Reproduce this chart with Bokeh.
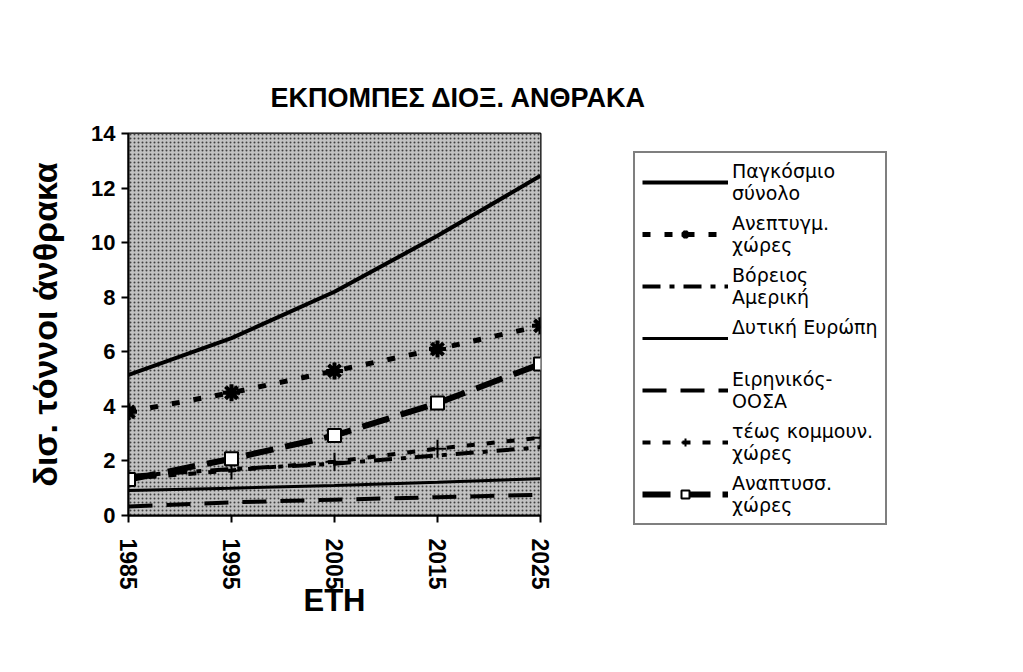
from bokeh.plotting import figure
from bokeh.models import Legend, LegendItem, FixedTicker, BoxAnnotation, Range1d
from bokeh.embed import file_html
from bokeh.resources import INLINE

# ---- data ----
years = [1985, 1995, 2005, 2015, 2025]
world_total = [5.15, 6.5, 8.2, 10.25, 12.45]
developed = [3.8, 4.5, 5.3, 6.1, 6.95]
north_america = [1.45, 1.7, 1.9, 2.2, 2.5]
western_europe = [0.92, 1.0, 1.1, 1.22, 1.35]
pacific_oecd = [0.33, 0.48, 0.58, 0.67, 0.76]
former_communist = [1.35, 1.65, 1.97, 2.45, 2.85]
developing = [1.32, 2.08, 2.93, 4.12, 5.55]

labels = [
    "Παγκόσμιο\nσύνολο",
    "Ανεπτυγμ.\nχώρες",
    "Βόρειος\nΑμερική",
    "Δυτική Ευρώπη\n ",
    "Ειρηνικός-\nΟΟΣΑ",
    "τέως κομμουν.\nχώρες",
    "Αναπτυσσ.\nχώρες",
]
y_ticks = [0, 2, 4, 6, 8, 10, 12, 14]
x_ticks = years
title_text = "ΕΚΠΟΜΠΕΣ ΔΙΟΞ. ΑΝΘΡΑΚΑ"
y_label = "δισ. τόννοι άνθρακα"
x_label = "ΕΤΗ"

FONT = "Liberation Sans"
LEGEND_FONT = "DejaVu Sans"

p = figure(
    frame_width=412, frame_height=382,
    output_backend="svg", toolbar_location=None,
    x_range=Range1d(1985, 2025), y_range=Range1d(0, 14),
    min_border_left=128, min_border_right=140,
    min_border_top=133, min_border_bottom=145,
)
p.background_fill_color = "#b8b8b8"
p.border_fill_color = "white"
p.outline_line_color = "black"
p.outline_line_width = 2
p.grid.visible = False

# stipple look
p.add_layout(BoxAnnotation(fill_color="#c2c2c2", fill_alpha=1.0, line_alpha=0,
                           hatch_pattern=".", hatch_color="#404040",
                           hatch_scale=4, hatch_weight=1.2, level="underlay"))

p.title.text = title_text
p.title.align = "left"
p.title.offset = 142
p.title.standoff = 41
p.title.text_font = FONT
p.title.text_font_size = "27px"
p.title.text_font_style = "bold"
p.title.text_color = "black"

p.xaxis.ticker = FixedTicker(ticks=x_ticks)
p.yaxis.ticker = FixedTicker(ticks=y_ticks)
p.xaxis.major_label_orientation = "vertical"
for ax in (p.xaxis, p.yaxis):
    ax.axis_line_color = "black"
    ax.axis_line_width = 2
    ax.major_tick_line_color = "black"
    ax.major_tick_line_width = 2
    ax.major_tick_out = 7
    ax.major_tick_in = 0
    ax.minor_tick_line_color = None
    ax.major_label_text_font = FONT
    ax.major_label_text_font_style = "bold"
    ax.major_label_text_color = "black"
    ax.axis_label_text_font = FONT
    ax.axis_label_text_font_style = "bold"
    ax.axis_label_text_color = "black"
p.xaxis.major_label_text_font_size = "23px"
p.yaxis.major_label_text_font_size = "22px"
p.xaxis.axis_label = x_label
p.yaxis.axis_label = y_label
p.xaxis.axis_label_text_font_size = "31px"
p.yaxis.axis_label_text_font_size = "34px"
p.xaxis.axis_label_standoff = -10
p.yaxis.axis_label_standoff = 24
p.xaxis.major_label_standoff = 16
p.yaxis.major_label_standoff = 6

r1 = [p.line(years, world_total, line_color="black", line_width=4)]
r2 = [p.line(years, developed, line_color="black", line_width=5, line_dash="8 14"),
      p.scatter(years, developed, marker="asterisk", size=17, line_color="black", line_width=4)]
r3 = [p.line(years, north_america, line_color="black", line_width=4, line_dash="18 9 5 9")]
r4 = [p.line(years, western_europe, line_color="black", line_width=3)]
r5 = [p.line(years, pacific_oecd, line_color="black", line_width=4, line_dash="24 14")]
r6 = [p.line(years, former_communist, line_color="black", line_width=4, line_dash="8 12"),
      p.scatter(years, former_communist, marker="cross", size=18, line_color="black", line_width=2)]
r7 = [p.line(years, developing, line_color="black", line_width=6, line_dash="28 12"),
      p.scatter(years, developing, marker="square", size=13, fill_color="white",
                line_color="black", line_width=2)]

items = [LegendItem(label=lab, renderers=rs) for lab, rs in zip(labels, [r1, r2, r3, r4, r5, r6, r7])]
legend = Legend(items=items, location=(93, -10))
legend.label_text_font = LEGEND_FONT
legend.label_text_font_size = "19px"
legend.label_text_color = "black"
legend.label_text_line_height = 0.95
legend.glyph_width = 86
legend.glyph_height = 20
legend.label_standoff = 4
legend.spacing = 8
legend.padding = 7
legend.margin = 0
legend.border_line_color = "black"
legend.border_line_width = 2
legend.background_fill_color = "white"
legend.background_fill_alpha = 1.0
p.add_layout(legend, "right")

open("out.html", "w").write(file_html(p, INLINE))
